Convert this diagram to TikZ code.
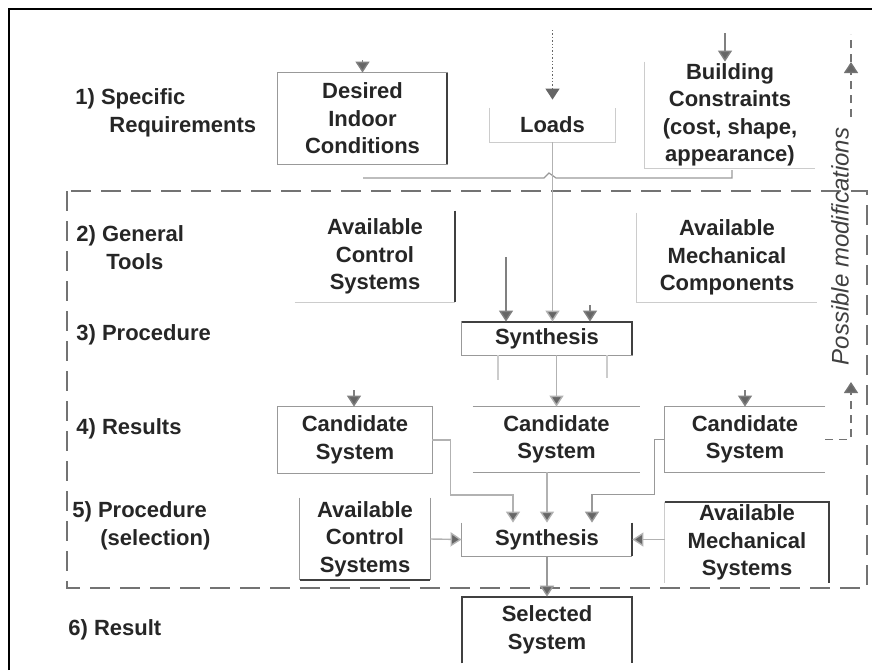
\documentclass[tikz,border=0pt]{standalone}
\usepackage{fontspec}
\setmainfont{Liberation Sans}
\usetikzlibrary{arrows.meta}
\begin{document}
\begin{tikzpicture}[x=0.5pt, y=-0.5pt,
        every node/.style={font=\fontsize{11}{13.75}\selectfont\bfseries, text=black!85, inner sep=0pt},
        lbl/.style={anchor=west, align=left},
        boxtext/.style={align=center},
        edge/.style={draw=black!40, line width=0.6pt},
        darkedge/.style={draw=black!75, line width=1pt},
        faint/.style={draw=black!20, line width=0.6pt},
        arr/.style={draw=black!50, line width=0.7pt, -{Triangle[width=7pt,length=5.5pt,fill=black!60]}},
        region/.style={draw=black!55, line width=1pt, dash pattern=on 10pt off 5pt},
        modline/.style={draw=black!55, line width=0.7pt, dash pattern=on 4pt off 3pt}]
    \useasboundingbox (0,0) rectangle (872,670);
    \draw[line width=1.3pt] (9,670) -- (9,9) -- (872,9);

    \node[lbl] (req) at (75,113) {1)~Specific\\\hspace*{17pt}Requirements};
    \node[lbl] (tools) at (76,247.5) {2)~General\\\hspace*{15pt}Tools};
    \node[lbl] (proc) at (76,335) {3)~Procedure};
    \node[lbl] (res) at (76,429) {4)~Results};
    \node[lbl] (sel) at (72,526) {5)~Procedure\\\hspace*{14pt}(selection)};
    \node[lbl] (final) at (68,630) {6)~Result};

    \draw[region] (67,191) rectangle (867,588);

    \node[boxtext, minimum width=84.5pt, minimum height=45.5pt] (desired) at (362.5,118.5) {Desired\\Indoor\\Conditions};
    \node[boxtext, minimum width=62.5pt, minimum height=17pt] (loads) at (552.5,125) {Loads};
    \node[boxtext, minimum width=85pt, minimum height=53pt] (building) at (730,115) {Building\\Constraints\\(cost, shape,\\appearance)};
    \node[boxtext, minimum width=80pt, minimum height=45.5pt] (ctrlA) at (375,256.5) {Available\\Control\\Systems};
    \node[boxtext, minimum width=90pt, minimum height=44.5pt] (mechA) at (727,257.5) {Available\\Mechanical\\Components};
    \node[boxtext, minimum width=85pt, minimum height=16.5pt] (synthA) at (547,338.5) {Synthesis};
    \node[boxtext, minimum width=77pt, minimum height=33pt] (candL) at (355,440) {Candidate\\System};
    \node[boxtext, minimum width=83.5pt, minimum height=32.5pt] (candM) at (556.5,439.5) {Candidate\\System};
    \node[boxtext, minimum width=80pt, minimum height=32.5pt] (candR) at (745,439.5) {Candidate\\System};
    \node[boxtext, minimum width=65pt, minimum height=41pt] (ctrlB) at (365,539) {Available\\Control\\Systems};
    \node[boxtext, minimum width=85pt, minimum height=16.5pt] (synthB) at (547,539.5) {Synthesis};
    \node[boxtext, minimum width=82pt, minimum height=40.5pt] (mechB) at (747,542.5) {Available\\Mechanical\\Systems};
    \node[boxtext, minimum width=85pt, minimum height=33pt] (selected) at (547,630) {Selected\\System};
    \node[font=\fontsize{12}{14}\selectfont\itshape, text=black!75, rotate=90] (mods) at (840,246.5) {Possible modifications};

    \draw[edge] (desired.north west) rectangle (desired.south east);
    \draw[darkedge] (desired.north east) -- (desired.south east);
    \draw[faint] (loads.north west) -- (loads.south west) -- (loads.south east) -- (loads.north east);
    \draw[faint] (building.north west) -- (building.south west) -- (building.south east);
    \draw[darkedge] (ctrlA.north east) -- (ctrlA.south east);
    \draw[faint] (ctrlA.south west) -- (ctrlA.south east);
    \draw[faint] (mechA.north west) -- (mechA.south west) -- (mechA.south east);
    \draw[edge] (synthA.north west) rectangle (synthA.south east);
    \draw[darkedge] (synthA.north west) -- (synthA.north east) -- (synthA.south east);
    \draw[edge] (candL.north west) rectangle (candL.south east);
    \draw[edge] (candM.north west) -- (candM.north east) (candM.south west) -- (candM.south east);
    \draw[edge] (candR.north east) -- (candR.north west) -- (candR.south west) -- (candR.south east);
    \draw[edge] (ctrlB.north west) -- (ctrlB.south west) (ctrlB.north east) -- (ctrlB.south east);
    \draw[darkedge] (ctrlB.south west) -- (ctrlB.south east);
    \draw[edge] (synthB.north west) -- (synthB.south west) -- (synthB.south east);
    \draw[darkedge] (synthB.north east) -- (synthB.south east);
    \draw[faint] (mechB.north west) -- (mechB.south west);
    \draw[darkedge] (mechB.north west) -- (mechB.north east) -- (mechB.south east);
    \draw[darkedge] (selected.south west) -- (selected.north west) -- (selected.north east) -- (selected.south east);

    \coordinate (desiredIn) at (362.5,60);
    \coordinate (loadsIn) at (552.5,30);
    \coordinate (buildingIn) at (725,33);
    \coordinate (busL) at (363,178);
    \coordinate (busR) at (732,170);
    \coordinate (ctrlFeed) at (506,257);
    \coordinate (mechFeed) at (590,305);
    \coordinate (candLIn) at (354,390);
    \coordinate (candRIn) at (745,390);
    \coordinate (modLow) at (851,382);
    \coordinate (modHigh) at (851,117);
    \coordinate (modTop) at (851,62);

    \draw[arr] (desiredIn) -- (desired.north);
    \draw[arr, densely dotted, draw=black!60] (loadsIn) -- ([yshift=4pt]loads.north);
    \draw[arr] (buildingIn) -- (buildingIn |- building.north);
    \draw[edge] (busL) -- (544,178) -- (549,173) -- (556,178) -- (732,178) -- (busR);
    \draw[arr, draw=black!30] (loads.south) -- (loads.south |- synthA.north);
    \draw[arr] (ctrlFeed) -- (ctrlFeed |- synthA.north);
    \draw[arr] (mechFeed) -- (mechFeed |- synthA.north);
    \draw[faint] ([xshift=-24.5pt]synthA.south) -- ++(0,25);
    \draw[faint] ([xshift=30pt]synthA.south) -- ++(0,23);
    \draw[arr, draw=black!30] (synthA.south -| candM.north) -- (candM.north);
    \draw[arr] (candLIn) -- (candLIn |- candL.north);
    \draw[arr] (candRIn) -- (candRIn |- candR.north);
    \draw[arr, draw=black!30] (candL.east) -- ++(18,0) -- ++(0,55) -| ([xshift=-17pt]synthB.north);
    \draw[arr, draw=black!30] (candM.south -| synthB.north) -- (synthB.north);
    \draw[arr, draw=black!40] (candR.west) -- ++(-10,0) -- ++(0,55) -| ([xshift=22.5pt]synthB.north);
    \draw[arr, draw=black!30] (ctrlB.east) -- (synthB.west);
    \draw[arr, draw=black!30] (mechB.west |- synthB.east) -- (synthB.east);
    \draw[arr, draw=black!40] (synthB.south) -- (selected.north);
    \draw[arr, modline] (candR.east) -| (modLow);
    \draw[arr, modline] (modHigh) -- (modTop);
    \draw[modline] (modTop) -- ++(0,-28);
\end{tikzpicture}
\end{document}
